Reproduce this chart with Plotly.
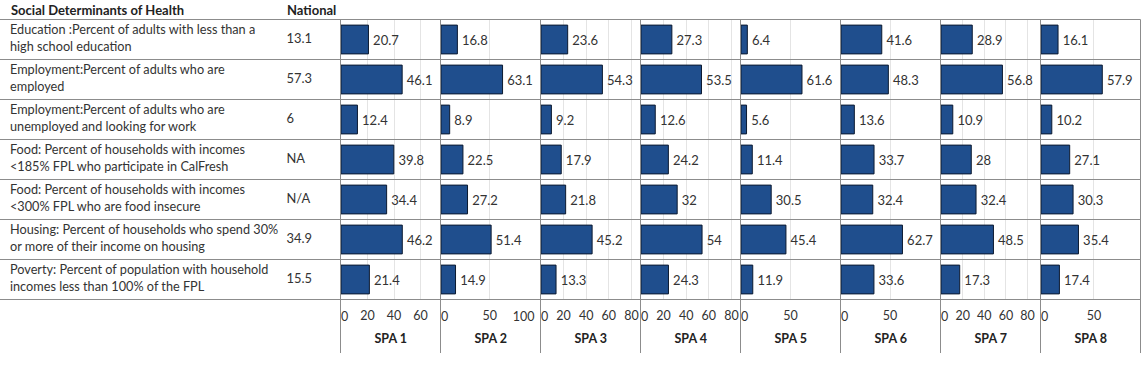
import plotly.graph_objects as go

W, H = 1141, 365

categories = [
    "Education :Percent of adults with less than a<br>high school education",
    "Employment:Percent of adults who are<br>employed",
    "Employment:Percent of adults who are<br>unemployed and looking for work",
    "Food: Percent of households with incomes<br>&lt;185% FPL who participate in CalFresh",
    "Food: Percent of households with incomes<br>&lt;300% FPL who are food insecure",
    "Housing: Percent of households who spend 30%<br>or more of their income on housing",
    "Poverty: Percent of population with household<br>incomes less than 100% of the FPL",
]
national = ["13.1", "57.3", "6", "NA", "N/A", "34.9", "15.5"]

spa_names = ["SPA 1", "SPA 2", "SPA 3", "SPA 4", "SPA 5", "SPA 6", "SPA 7", "SPA 8"]
spa1 = [20.7, 46.1, 12.4, 39.8, 34.4, 46.2, 21.4]
spa2 = [16.8, 63.1, 8.9, 22.5, 27.2, 51.4, 14.9]
spa3 = [23.6, 54.3, 9.2, 17.9, 21.8, 45.2, 13.3]
spa4 = [27.3, 53.5, 12.6, 24.2, 32, 54, 24.3]
spa5 = [6.4, 61.6, 5.6, 11.4, 30.5, 45.4, 11.9]
spa6 = [41.6, 48.3, 13.6, 33.7, 32.4, 62.7, 33.6]
spa7 = [28.9, 56.8, 10.9, 28, 32.4, 48.5, 17.3]
spa8 = [16.1, 57.9, 10.2, 27.1, 30.3, 35.4, 17.4]
spa_values = [spa1, spa2, spa3, spa4, spa5, spa6, spa7, spa8]

axis_max = [75, 102, 88, 88, 100.5, 101.5, 92, 94]
tick_vals = [
    [0, 20, 40, 60],
    [0, 50, 100],
    [0, 20, 40, 60, 80],
    [0, 20, 40, 60, 80],
    [0, 50],
    [0, 50],
    [0, 20, 40, 60, 80],
    [0, 50],
]

FONT = "Lato"
TXT = "#333333"
LINE = "#8c8c8c"
GRID = "#e4e4e4"
BAR = "#1f4e8d"
BAR_EDGE = "#0c1a30"
TICKFONT = dict(family=FONT, size=12.5, color=TXT)

row_top, row_h = 19.5, 40.0
rows_bottom = row_top + row_h * len(categories)


def px(x):
    return x / W


def py(y):
    return 1 - y / H


fig = go.Figure()

layout = dict(
    template="none",
    width=W, height=H, autosize=False,
    margin=dict(l=0, r=0, t=0, b=0, pad=0),
    paper_bgcolor="white", plot_bgcolor="rgba(0,0,0,0)",
    showlegend=False,
    font=dict(family=FONT, size=12, color=TXT),
    yaxis=dict(
        domain=[py(rows_bottom), py(row_top)],
        type="category", categoryorder="array", categoryarray=categories,
        range=[len(categories) - 0.5, -0.5],
        showticklabels=False, showgrid=False, zeroline=False, showline=False,
        ticks="", automargin=False, fixedrange=True,
    ),
)

# label column
fig.add_trace(go.Scatter(
    x=[0] * len(categories), y=categories, mode="text", text=categories,
    textposition="middle right", textfont=dict(family=FONT, size=12.7, color=TXT),
    xaxis="x", yaxis="y", hoverinfo="skip", cliponaxis=False,
))
layout["xaxis"] = dict(domain=[0, px(280)], range=[-10, 270], visible=False,
                       anchor="y", automargin=False)

# national column
fig.add_trace(go.Scatter(
    x=[0] * len(categories), y=categories, mode="text", text=national,
    textposition="middle right", textfont=dict(family=FONT, size=12.9, color=TXT),
    xaxis="x2", yaxis="y", hoverinfo="skip", cliponaxis=False,
))
layout["xaxis2"] = dict(domain=[px(280), px(340)], range=[-6.5, 53.5], visible=False,
                        anchor="y", automargin=False)

overlay_n = 11
for i, (name, vals) in enumerate(zip(spa_names, spa_values)):
    main = i + 3
    fig.add_trace(go.Bar(
        x=vals, y=categories, orientation="h",
        marker=dict(color=BAR, line=dict(color=BAR_EDGE, width=1)),
        text=[f"\u2009{v:g}" for v in vals], textposition="outside",
        textfont=dict(family=FONT, size=13, color=TXT),
        constraintext="none", cliponaxis=False,
        xaxis=f"x{main}", yaxis="y", hoverinfo="skip",
    ))
    left = 340.5 + 100 * i
    mid_ticks = [t for t in tick_vals[i] if t not in (0, 100)]
    layout[f"xaxis{main}"] = dict(
        domain=[px(left + 0.5), px(left + 100)],
        range=[0, axis_max[i]], anchor="y", automargin=False,
        tickmode="array", tickvals=mid_ticks, ticktext=[str(t) for t in mid_ticks],
        showgrid=True, gridcolor=GRID, gridwidth=1, zeroline=False,
        showline=False, ticks="outside", ticklen=4, tickcolor="rgba(0,0,0,0)",
        tickfont=TICKFONT,
        title=dict(text=f"<b>{name}</b>", font=dict(family=FONT, size=12.5, color="#222222"), standoff=12),
        fixedrange=True,
    )
    # edge tick labels kept inside their panel, as in the reference
    edge = [(0, "outside right", 0)]
    if 100 in tick_vals[i]:
        edge.append((100, "outside left", -4))
    for val, pos, shift in edge:
        ax = overlay_n
        overlay_n += 1
        fig.add_trace(go.Scatter(x=[], y=[], xaxis=f"x{ax}", yaxis="y",
                                 mode="markers", hoverinfo="skip", showlegend=False))
        layout[f"xaxis{ax}"] = dict(
            overlaying=f"x{main}", anchor="y", automargin=False,
            domain=[px(left + 0.5), px(left + 100)],
            range=[0, axis_max[i]], side="bottom",
            tickmode="array", tickvals=[val], ticktext=[str(val)],
            ticklabelposition=pos, ticklabelstandoff=8, ticklabelshift=shift,
            showgrid=False, zeroline=False, showline=False,
            ticks="", tickfont=TICKFONT, fixedrange=True,
        )

layout["bargap"] = 0.28

shapes = []
for k in range(len(categories) + 1):
    y = row_top + row_h * k
    shapes.append(dict(type="line", xref="paper", yref="paper",
                       x0=0, x1=px(1140.5), y0=py(y), y1=py(y),
                       line=dict(color=LINE, width=1)))
for k in range(9):
    x = 340.5 + 100 * k
    shapes.append(dict(type="line", xref="paper", yref="paper",
                       x0=px(x), x1=px(x), y0=py(row_top), y1=py(353),
                       line=dict(color=LINE, width=1)))
layout["shapes"] = shapes

layout["annotations"] = [
    dict(text="<b>Social Determinants of Health</b>", xref="paper", yref="paper",
         x=px(9), y=py(10), xanchor="left", yanchor="middle", showarrow=False,
         font=dict(family=FONT, size=13, color="#222222")),
    dict(text="<b>National</b>", xref="paper", yref="paper",
         x=px(285), y=py(10), xanchor="left", yanchor="middle", showarrow=False,
         font=dict(family=FONT, size=13, color="#222222")),
]

fig.update_layout(**layout)
fig.write_html(
    "out.html",
    config={"displayModeBar": False},
    post_script="document.body.style.margin='0';document.body.style.padding='0';document.body.style.overflow='hidden';",
)
